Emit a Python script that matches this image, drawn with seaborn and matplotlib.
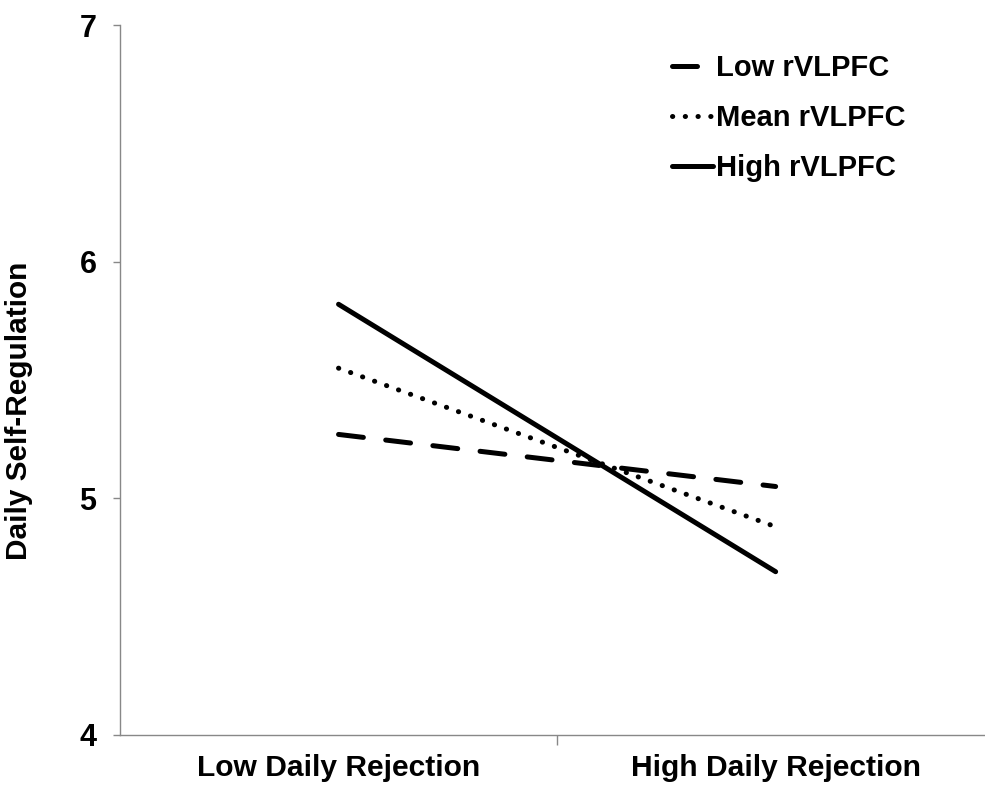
import matplotlib
matplotlib.use("Agg")
import matplotlib.pyplot as plt
import seaborn as sns
import pandas as pd
from matplotlib.lines import Line2D

categories = ["Low Daily Rejection", "High Daily Rejection"]
series = ["Low rVLPFC", "Mean rVLPFC", "High rVLPFC"]
low_vals = [5.27, 5.05]
mean_vals = [5.55, 4.88]
high_vals = [5.82, 4.69]
y_ticks = [4, 5, 6, 7]

rows = []
for name, vals in zip(series, [low_vals, mean_vals, high_vals]):
    for i, (c, v) in enumerate(zip(categories, vals)):
        rows.append({"pos": i, "category": c, "series": name, "value": v})
df = pd.DataFrame(rows)

sns.set_theme(style="white")
plt.rcParams["font.family"] = ["Liberation Sans", "DejaVu Sans"]
plt.rcParams["font.weight"] = "bold"
plt.rcParams["text.color"] = "black"
plt.rcParams["xtick.color"] = "black"
plt.rcParams["ytick.color"] = "black"

fig = plt.figure(figsize=(9.85, 7.85), dpi=100)
ax = fig.add_axes([120 / 985, 1 - 735 / 785, 865 / 985, 710 / 785])

dash_map = {"Low rVLPFC": (5, 4.5), "Mean rVLPFC": (0.05, 2.5), "High rVLPFC": ""}
sns.lineplot(data=df, x="pos", y="value", hue="series", style="series",
             hue_order=series, style_order=series,
             palette={s: "black" for s in series}, dashes=dash_map,
             linewidth=3.6, ax=ax, legend=False)
for line in ax.lines:
    line.set_dash_capstyle("round")
    line.set_solid_capstyle("round")

ax.set_xlim(-0.5, 1.479)
ax.set_ylim(4, 7)
ax.set_yticks(y_ticks)
ax.set_yticklabels([str(t) for t in y_ticks], fontsize=22, fontweight="bold", color="black")
ax.set_xticks([0.5])
ax.set_xticklabels([""])
ax.tick_params(axis="y", direction="out", length=5, width=1, color="#888888", pad=12, left=True)
ax.tick_params(axis="x", direction="out", length=7, width=1, color="#888888", bottom=True)
for i, c in enumerate(categories):
    ax.text(i, -(776 - 735) / 710, c, transform=ax.get_xaxis_transform(), ha="center",
            va="baseline", fontsize=21.6, fontweight="bold", color="black")
ax.set_xlabel("")
ax.set_ylabel("")
fig.text(19 / 985, 1 - 411 / 785, "Daily Self-Regulation", rotation=90, ha="center", va="center",
         fontsize=21.4, fontweight="bold", color="black")

for s in ["top", "right"]:
    ax.spines[s].set_visible(False)
for s in ["left", "bottom"]:
    ax.spines[s].set_color("#888888")
    ax.spines[s].set_linewidth(1)

handles = []
for name in series:
    h = Line2D([0], [0], color="black", linewidth=3.6,
               linestyle=(0, dash_map[name]) if dash_map[name] else "-",
               dash_capstyle="round")
    handles.append(h)
leg = ax.legend(handles, series, loc="upper left", bbox_to_anchor=(672 / 985, 1 - 54 / 785),
                bbox_transform=fig.transFigure, frameon=False, borderaxespad=0, borderpad=0,
                handlelength=1.4, handletextpad=0.1, labelspacing=0.76,
                prop={"size": 21, "weight": "bold"})
for t in leg.get_texts():
    t.set_color("black")

fig.savefig("out.png", dpi=100, facecolor="white")
